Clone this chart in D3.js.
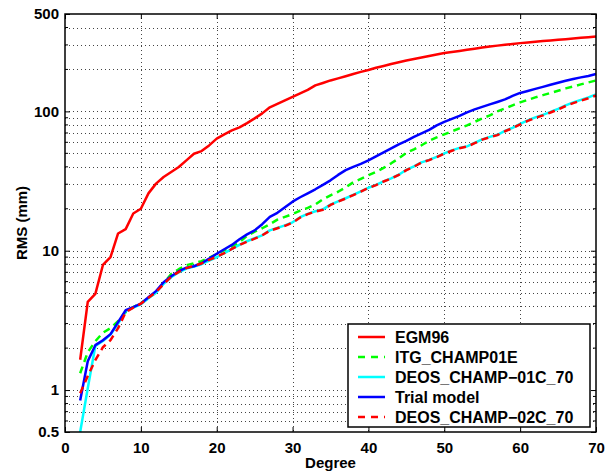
<!DOCTYPE html>
<html>
<head>
<meta charset="utf-8">
<script src="https://cdn.jsdelivr.net/npm/d3@7"></script>
<style>
  body { margin: 0; background: #fff; }
  svg text { font-family: "Liberation Sans", Arial, sans-serif; font-weight: bold; }
</style>
</head>
<body>
<div id="chart"></div>
<script>
// degree 2..70
const degrees = d3.range(2, 71);

const egm96 = [1.65, 4.3, 4.9, 7.9, 9.0, 13.3, 14.3, 18.5, 20.0,
  25.8, 30.3, 33.8, 36.7, 39.9, 44.5, 49.7, 51.9, 57, 63.7,
  68.4, 73.1, 76.8, 82.4, 89.1, 96.8, 106.9, 113.2, 120, 127,
  134.6, 142.6, 153.6, 160, 166.8, 172.5, 178.8, 185.7, 192, 198,
  205.7, 212, 219, 225.3, 232, 237.8, 243.8, 250, 256, 262.6,
  267, 271.6, 277, 282, 287.6, 292.5, 296.5, 300.9, 304.8, 309,
  312.6, 316, 319.8, 323, 326.6, 329.8, 333.5, 337.3, 340.9, 345];

const itgChamp = [1.32, 1.87, 2.24, 2.58, 2.78, 3.12, 3.62, 3.94, 4.2,
  4.57, 5.04, 5.85, 6.79, 7.37, 7.87, 8.13, 8.41, 8.91, 9.44,
  10.1, 10.6, 11.5, 12.8, 13.7, 14.5, 15.5, 16.7, 17.5, 18.3,
  19.4, 20.3, 21.5, 23.4, 25, 26.5, 28.5, 31, 32.8, 34.8,
  36.8, 39.3, 42.4, 46, 50.4, 53.4, 57.1, 61.5, 65.1, 68.4,
  71.9, 75.6, 79.4, 84.1, 89.1, 93.6, 100, 105, 110.5, 116,
  120.9, 126, 130.8, 135.7, 140.7, 146.2, 151, 156.3, 161.5, 166.8];

const deos01c = [0.5, 1.03, 2.07, 2.25, 2.5, 3.0, 3.68, 3.9, 4.12,
  4.55, 5.0, 5.8, 6.45, 7.0, 7.45, 7.7, 8.0, 8.5, 8.98,
  9.6, 10.3, 11.0, 11.7, 12.3, 12.9, 14.0, 14.6, 15.2, 16.0,
  17.4, 18.4, 19.2, 19.8, 21.4, 22.6, 23.8, 25.2, 26.7, 28.3,
  29.7, 31.5, 33.1, 35.1, 38.1, 40.3, 43.1, 44.9, 47.2, 50,
  52.5, 54.7, 56.1, 59.4, 63, 65.6, 67.9, 72.4, 76.2, 81.3,
  86.1, 90.5, 94.4, 99.1, 104.2, 110.5, 116, 120.9, 126, 132.4];

const trialModel = [0.84, 1.61, 2.1, 2.28, 2.52, 3.07, 3.74, 3.94, 4.17,
  4.64, 5.13, 5.94, 6.56, 7.13, 7.55, 7.74, 8.13, 8.77, 9.51,
  10.25, 11.0, 12.1, 13.1, 14.0, 15.5, 17.5, 18.7, 20.5, 22.5,
  24.2, 25.8, 27.6, 29.7, 32.0, 35.0, 37.9, 40.0, 42.0, 44.5,
  47.6, 50.8, 54.3, 58.0, 61.4, 65.6, 69.5, 73.7, 79.4, 84.1,
  88.4, 92.9, 98.4, 103.3, 107.7, 112.2, 116.9, 121.9, 129.1, 135.7,
  140.2, 145, 149.9, 155.3, 160.5, 166, 171, 175.4, 179.7, 185.7];

const deos02c = [0.95, 1.26, 1.64, 2.03, 2.28, 2.78, 3.62, 3.9, 4.17,
  4.6, 5.05, 5.75, 6.5, 7.05, 7.5, 7.8, 8.1, 8.6, 9.05,
  9.6, 10.3, 11.0, 11.6, 12.2, 12.9, 13.9, 14.5, 15.1, 15.9,
  17.3, 18.3, 19.1, 19.7, 21.3, 22.5, 23.7, 25.1, 26.6, 28.2,
  29.6, 31.4, 33.0, 35.0, 37.9, 40.1, 42.9, 44.7, 47.0, 49.8,
  52.2, 54.4, 55.9, 59.1, 62.7, 65.3, 67.6, 72.0, 75.8, 80.8,
  85.5, 89.8, 93.6, 98.2, 103.2, 109.3, 114.6, 119.3, 124.2, 130];

const seriesNames = ["EGM96", "ITG_CHAMP01E", "DEOS_CHAMP\u221201C_70", "Trial model", "DEOS_CHAMP\u221202C_70"];
const seriesColors = ["#ff0000", "#00ff00", "#00ffff", "#0000ff", "#ff0000"];
const seriesDashed = [false, true, false, false, true];
const seriesValues = [egm96, itgChamp, deos01c, trialModel, deos02c];

const xTicks = [0, 10, 20, 30, 40, 50, 60, 70];
const yTickLabels = [0.5, 1, 10, 100, 500];

const width = 605, height = 475;
const margin = { left: 65, right: 9, top: 14, bottom: 43 };
const plotW = width - margin.left - margin.right;
const plotH = height - margin.top - margin.bottom;

const svg = d3.select("#chart").append("svg")
  .attr("width", width)
  .attr("height", height)
  .attr("viewBox", [0, 0, width, height]);

const x = d3.scaleLinear().domain([0, 70]).range([0, plotW]);
const y = d3.scaleLog().domain([0.5, 500]).range([plotH, 0]);

const g = svg.append("g").attr("transform", `translate(${margin.left},${margin.top})`);

// grid
const allY = y.ticks().filter(v => v > 0.5 && v < 500);
g.append("g").selectAll("line").data(allY).join("line")
  .attr("x1", 0).attr("x2", plotW)
  .attr("y1", d => Math.round(y(d)) + 0.5).attr("y2", d => Math.round(y(d)) + 0.5)
  .attr("stroke", "#444").attr("stroke-width", 1).attr("stroke-dasharray", "1,3");
g.append("g").selectAll("line").data(xTicks.slice(1, -1)).join("line")
  .attr("x1", d => Math.round(x(d)) + 0.5).attr("x2", d => Math.round(x(d)) + 0.5)
  .attr("y1", 0).attr("y2", plotH)
  .attr("stroke", "#444").attr("stroke-width", 1).attr("stroke-dasharray", "1,3");

// curves
const line = d3.line().x((d, i) => x(degrees[i])).y(d => y(d));
seriesValues.forEach((vals, k) => {
  g.append("path")
    .datum(vals)
    .attr("fill", "none")
    .attr("stroke", seriesColors[k])
    .attr("stroke-width", 2.5)
    .attr("stroke-linejoin", "round")
    .attr("stroke-dasharray", seriesDashed[k] ? "7,5" : null)
    .attr("d", line);
});

// axes (inward ticks, box)
const fmtY = d => String(d);
const xAxisB = g.append("g").attr("transform", `translate(0,${plotH})`)
  .call(d3.axisBottom(x).tickValues(xTicks).tickSize(-5).tickPadding(10).tickFormat(d3.format("d")));
const xAxisT = g.append("g")
  .call(d3.axisTop(x).tickValues(xTicks).tickSize(-5).tickFormat(""));
const yAxisL = g.append("g")
  .call(d3.axisLeft(y).tickValues(yTickLabels).tickSize(-5).tickPadding(6).tickFormat(fmtY));
const yAxisR = g.append("g").attr("transform", `translate(${plotW},0)`)
  .call(d3.axisRight(y).tickValues(yTickLabels).tickSize(-5).tickFormat(""));
// minor y ticks
[0, plotW].forEach((xx, s) => {
  g.append("g").selectAll("line").data(allY.filter(v => !yTickLabels.includes(v))).join("line")
    .attr("x1", xx).attr("x2", s === 0 ? xx + 3 : xx - 3)
    .attr("y1", d => y(d)).attr("y2", d => y(d))
    .attr("stroke", "#000");
});

[xAxisB, xAxisT, yAxisL, yAxisR].forEach(a => {
  a.select(".domain").remove();
  a.selectAll("line").attr("stroke", "#000");
  a.selectAll("text").attr("font-size", 15).attr("fill", "#000")
    .style("font-family", "'Liberation Sans', Arial, sans-serif").style("font-weight", "bold");
});

g.append("rect")
  .attr("x", 0).attr("y", 0).attr("width", plotW).attr("height", plotH)
  .attr("fill", "none").attr("stroke", "#000").attr("stroke-width", 1.5);

// axis labels
svg.append("text")
  .attr("x", margin.left + plotW / 2).attr("y", 468)
  .attr("text-anchor", "middle").attr("font-size", 15)
  .text("Degree");
svg.append("text")
  .attr("transform", `translate(27,${margin.top + plotH / 2}) rotate(-90)`)
  .attr("text-anchor", "middle").attr("font-size", 15)
  .text("RMS (mm)");

// legend
const lg = svg.append("g").attr("transform", "translate(348,324)");
lg.append("rect").attr("width", 242).attr("height", 103)
  .attr("fill", "#fff").attr("stroke", "#000").attr("stroke-width", 1.5);
seriesNames.forEach((name, k) => {
  const yy = 13 + k * 20;
  lg.append("line")
    .attr("x1", 10).attr("x2", 37).attr("y1", yy).attr("y2", yy)
    .attr("stroke", seriesColors[k]).attr("stroke-width", 2.5)
    .attr("stroke-dasharray", seriesDashed[k] ? "7,6" : null);
  lg.append("text")
    .attr("x", 47).attr("y", yy + 6)
    .attr("font-size", 16)
    .text(name);
});
</script>
</body>
</html>
